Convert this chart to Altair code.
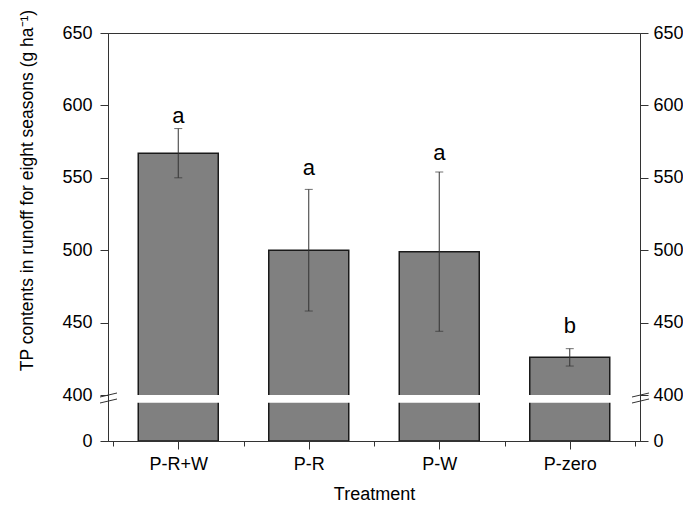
import json
import altair as alt
import pandas as pd

categories = ["P-R+W", "P-R", "P-W", "P-zero"]
positions = [1, 2, 3, 4]
means = [567, 500, 499, 426]
errors = [17, 42, 55, 6]
letters = ["a", "a", "a", "b"]
letter_y = [588, 552, 562, 443]

y_ticks = [0, 400, 450, 500, 550, 600, 650]
x_minor = [0.5, 1.5, 2.5, 3.5, 4.5]

df = pd.DataFrame({
    "cat": categories,
    "pos": positions,
    "mean": means,
    "err": errors,
    "letter": letters,
    "ly": letter_y,
})
df["lo"] = df["mean"] - df["err"]
df["hi"] = df["mean"] + df["err"]

W, H = 532, 408
FONT = "Liberation Sans"
LINE = "#333333"

yscale = alt.Scale(domain=[0, 400, 650], range=[H, 362, 0])
xscale = alt.Scale(domain=[0.5, 4.5], nice=False, zero=False)
label_expr = json.dumps(categories) + "[round(datum.value) - 1]"

left_axis = alt.Axis(
    values=y_ticks, orient="left", tickSize=8, labelPadding=8, labelFontSize=18,
    title="TP contents in runoff for eight seasons (g ha\u207b\u00b9)",
    titleFontSize=17.5, titleX=-81, titleY=157, titleAlign="center",
    titleBaseline="middle", zindex=1,
)
right_axis = alt.Axis(
    values=y_ticks, orient="right", tickSize=8, labelPadding=5, labelFontSize=18,
    title=None, zindex=1,
)
x_axis = alt.Axis(
    values=positions, labelExpr=label_expr, orient="bottom", tickSize=8,
    labelPadding=6, labelFontSize=18, title="Treatment", titleFontSize=18,
    titlePadding=12, zindex=1,
)
x_minor_axis = alt.Axis(
    values=x_minor, orient="bottom", tickSize=5, labels=False, domain=False,
    title=None, zindex=1,
)

base = alt.Chart(df)

bars = base.mark_bar(size=80, fill="#808080", stroke="#1a1a1a", strokeWidth=1.5).encode(
    x=alt.X("pos:Q", scale=xscale, axis=x_axis),
    y=alt.Y("mean:Q", scale=yscale, axis=left_axis),
    y2=alt.datum(0),
)

minor = base.mark_point(opacity=0).encode(
    x=alt.X("pos:Q", scale=xscale, axis=x_minor_axis),
    y=alt.Y("mean:Q", scale=yscale, axis=right_axis),
)

gap = alt.Chart(alt.Data(values=[{}])).mark_rect(color="white").encode(
    x=alt.XDatum(0.55, axis=None, scale=xscale), x2=alt.X2Datum(4.45),
    y=alt.YDatum(333, axis=None, scale=yscale), y2=alt.Y2Datum(400),
)

err_rule = base.mark_rule(color=LINE, strokeWidth=1).encode(
    x=alt.X("pos:Q", scale=xscale, axis=None),
    y=alt.Y("lo:Q", scale=yscale, axis=None),
    y2="hi:Q",
)
cap_lo = base.mark_tick(orient="horizontal", size=8, thickness=1, color=LINE).encode(
    x=alt.X("pos:Q", scale=xscale, axis=None),
    y=alt.Y("lo:Q", scale=yscale, axis=None),
)
cap_hi = base.mark_tick(orient="horizontal", size=8, thickness=1, color=LINE).encode(
    x=alt.X("pos:Q", scale=xscale, axis=None),
    y=alt.Y("hi:Q", scale=yscale, axis=None),
)

letters_layer = base.mark_text(font=FONT, fontSize=22, color="black", baseline="alphabetic").encode(
    x=alt.X("pos:Q", scale=xscale, axis=None),
    y=alt.Y("ly:Q", scale=yscale, axis=None),
    text="letter:N",
)

one = alt.Data(values=[{}])
brk = []
for x0 in (0, W):
    for dy in (0, 6):
        brk.append(
            alt.Chart(one).mark_rule(color=LINE, strokeWidth=1).encode(
                x=alt.value(x0 - 8), x2=alt.value(x0 + 9),
                y=alt.value(364 + dy), y2=alt.value(360 + dy),
            )
        )

chart = alt.layer(bars, minor, gap, err_rule, cap_lo, cap_hi, letters_layer, *brk).resolve_axis(
    x="independent", y="independent"
).properties(
    width=W, height=H,
    padding={"left": 100, "top": 25, "right": 43, "bottom": 63},
    autosize=alt.AutoSizeParams(type="none"),
).configure_view(
    stroke=LINE, strokeWidth=1,
).configure_axis(
    labelFont=FONT, titleFont=FONT, labelColor="black", titleColor="black",
    domainColor=LINE, tickColor=LINE, grid=False, titleFontWeight="normal",
)

chart.save("out.html", embed_options={"renderer": "svg", "actions": False})
